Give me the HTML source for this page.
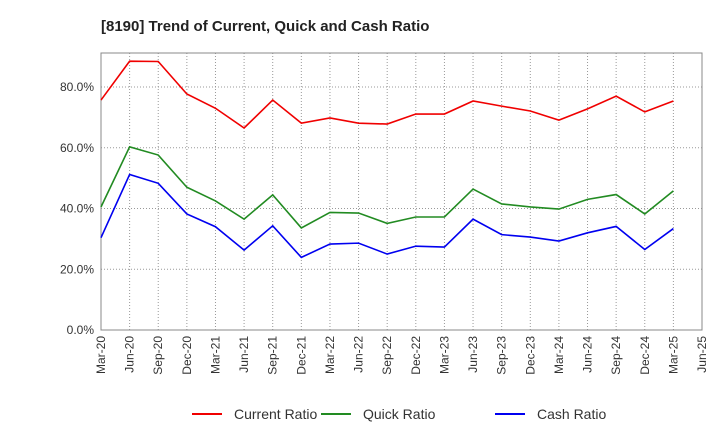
<!DOCTYPE html>
<html><head><meta charset="utf-8"><style>body{margin:0;background:#fff}svg{font-family:"Liberation Sans",Arial,sans-serif}</style></head>
<body>
<svg id="c" width="720" height="440" viewBox="0 0 720 440">
<text x="101" y="31" font-size="15" font-weight="bold" fill="#222">[8190]  Trend of Current, Quick and Cash Ratio</text>
<g id="grid"></g><g id="axes"></g><g id="series"></g>
<g id="legend"></g>
</svg>
<script>
const categories=["Mar-20","Jun-20","Sep-20","Dec-20","Mar-21","Jun-21","Sep-21","Dec-21","Mar-22","Jun-22","Sep-22","Dec-22","Mar-23","Jun-23","Sep-23","Dec-23","Mar-24","Jun-24","Sep-24","Dec-24","Mar-25","Jun-25"];
const currentRatio=[75.7,88.5,88.4,77.7,73,66.5,75.7,68.1,69.8,68.1,67.8,71.1,71.1,75.4,73.7,72.1,69.1,72.8,77,71.8,75.4];
const quickRatio=[40.5,60.3,57.6,47,42.5,36.5,44.5,33.6,38.7,38.5,35.1,37.2,37.2,46.4,41.5,40.5,39.8,43,44.6,38.2,45.8];
const cashRatio=[30.4,51.2,48.3,38.2,34,26.3,34.3,23.9,28.3,28.6,25,27.6,27.3,36.5,31.4,30.6,29.3,32,34.1,26.5,33.4];
const yTicks=[0,20,40,60,80];
const NS="http://www.w3.org/2000/svg";
const L=101,R=702,T=53,B=330;
const x=i=>L+i*(R-L)/(categories.length-1);
const y=v=>B-v*(B-87)/80;
function mk(p,t,a){const e=document.createElementNS(NS,t);for(const k in a)e.setAttribute(k,a[k]);document.getElementById(p).appendChild(e);return e;}
categories.forEach((c,i)=>{
 const g=mk("grid","line",{x1:x(i),x2:x(i),y1:T,y2:B,stroke:"#999","stroke-dasharray":"1,2","stroke-width":1});
 
 
 const t=mk("axes","text",{x:0,y:0,"font-size":12,fill:"#333","text-anchor":"end",transform:`translate(${x(i)+4},${B+6}) rotate(-90)`});
 t.textContent=c;
 
 
});
yTicks.forEach(v=>{
 if(v>0){const g=mk("grid","line",{x1:L,x2:R,y1:y(v),y2:y(v),stroke:"#999","stroke-dasharray":"1,2"});
 
 }
 const t=mk("axes","text",{x:L-7,y:y(v)+4,"font-size":12,fill:"#333","text-anchor":"end"});
 t.textContent=v.toFixed(1)+"%";
 
 
});
const f=mk("axes","rect",{x:L,y:T,width:R-L,height:B-T,fill:"none",stroke:"#888"});


const S=[["Current Ratio",currentRatio,"#f00000","current-ratio-line"],["Quick Ratio",quickRatio,"#228b22","quick-ratio-line"],["Cash Ratio",cashRatio,"#0000f0","cash-ratio-line"]];
S.forEach(([n,d,col,nm])=>{
 const p=mk("series","polyline",{points:d.map((v,i)=>x(i)+","+y(v)).join(" "),fill:"none",stroke:col,"stroke-width":1.6});
 
 
});
const lx=[192,321,495];
S.forEach(([n,d,col,nm],k)=>{
 const l=mk("legend","line",{x1:lx[k],x2:lx[k]+30,y1:414,y2:414,stroke:col,"stroke-width":2});
 
 
 const t=mk("legend","text",{x:lx[k]+42,y:419,"font-size":14,fill:"#333"});
 t.textContent=n;
 
 
});
</script>
</body></html>
